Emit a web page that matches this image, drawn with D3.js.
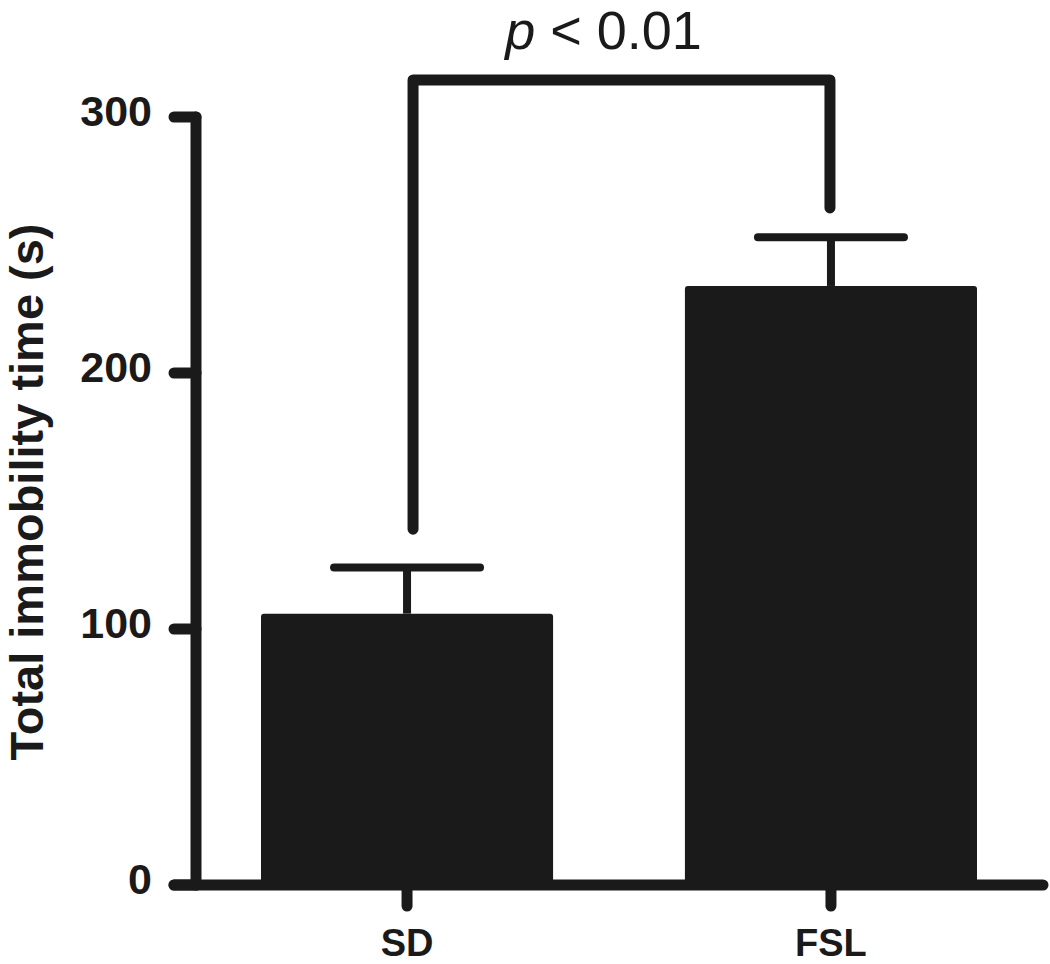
<!DOCTYPE html>
<html>
<head>
<meta charset="utf-8">
<script src="https://cdn.jsdelivr.net/npm/d3@7"></script>
<style>
  html, body { margin: 0; padding: 0; background: #fff; }
  svg { display: block; }
  text { font-family: "Liberation Sans", Arial, Helvetica, sans-serif; fill: #1a1a1a; }
</style>
</head>
<body>
<script>
// ---- data ----
const categories = ["SD", "FSL"];
const means = [106, 234];
const errors = [18, 19];   // SEM (upper)
const yTicks = [0, 100, 200, 300];
const yLabel = "Total immobility time (s)";
const sigText = "< 0.01";
const sigBracket = { left: 139, top: 314.5, right: 264.5 }; // in data units

const W = 1050, H = 964;
const ink = "#1a1a1a";

const svg = d3.select("body").append("svg").attr("width", W).attr("height", H);

const y = d3.scaleLinear().domain([0, 300]).range([885, 117]);
const x = d3.scaleBand().domain(categories).range([261, 977]).paddingInner(0.311).paddingOuter(0);
const cx = c => x(c) + x.bandwidth() / 2;

// bars
svg.selectAll("rect.bar").data(categories).join("rect")
  .attr("class", "bar")
  .attr("x", c => x(c))
  .attr("width", x.bandwidth())
  .attr("y", (c, i) => y(means[i]))
  .attr("height", (c, i) => y(0) - y(means[i]))
  .attr("rx", 3)
  .attr("fill", ink);

// error bars
const capHalf = 73;
const eg = svg.append("g").attr("stroke", ink).attr("stroke-width", 8).attr("stroke-linecap", "round").attr("fill", "none");
categories.forEach((c, i) => {
  eg.append("line").attr("x1", cx(c)).attr("x2", cx(c))
    .attr("y1", y(means[i])).attr("y2", y(means[i] + errors[i])).attr("stroke-linecap", "butt");
  eg.append("line").attr("x1", cx(c) - capHalf).attr("x2", cx(c) + capHalf)
    .attr("y1", y(means[i] + errors[i])).attr("y2", y(means[i] + errors[i]));
});

// axes
const ag = svg.append("g").attr("stroke", ink).attr("stroke-width", 11).attr("stroke-linecap", "round").attr("fill", "none");
const axisX = 196;
ag.append("line").attr("x1", axisX).attr("x2", axisX).attr("y1", y(0)).attr("y2", y(300));
ag.append("line").attr("x1", 174).attr("x2", 1043).attr("y1", y(0)).attr("y2", y(0));
yTicks.forEach(t => {
  ag.append("line").attr("x1", 174).attr("x2", axisX).attr("y1", y(t)).attr("y2", y(t));
});
categories.forEach(c => {
  ag.append("line").attr("x1", cx(c)).attr("x2", cx(c)).attr("y1", y(0)).attr("y2", 906);
});

// y tick labels
svg.selectAll("text.ytick").data(yTicks).join("text")
  .attr("class", "ytick")
  .attr("x", 152)
  .attr("y", t => y(t) - 6)
  .attr("text-anchor", "end")
  .attr("dominant-baseline", "central")
  .attr("font-size", 43)
  .attr("font-weight", "bold")
  .text(t => t);

// x labels
svg.selectAll("text.xlab").data(categories).join("text")
  .attr("class", "xlab")
  .attr("x", c => cx(c))
  .attr("y", 956)
  .attr("text-anchor", "middle")
  .attr("font-size", 38)
  .attr("font-weight", "bold")
  .text(c => c);

// y label
svg.append("text")
  .attr("transform", "translate(43,492) rotate(-90)")
  .attr("text-anchor", "middle")
  .attr("font-size", 47)
  .attr("font-weight", "bold")
  .text(yLabel);

// significance bracket
const bx1 = cx(categories[0]) + 6, bx2 = cx(categories[1]) - 1;
svg.append("path")
  .attr("d", `M${bx1},${y(sigBracket.left)} L${bx1},${y(sigBracket.top)} L${bx2},${y(sigBracket.top)} L${bx2},${y(sigBracket.right)}`)
  .attr("fill", "none").attr("stroke", ink).attr("stroke-width", 11)
  .attr("stroke-linecap", "round").attr("stroke-linejoin", "round");

const st = svg.append("text")
  .attr("x", (bx1 + bx2) / 2 - 18)
  .attr("y", 49)
  .attr("text-anchor", "middle")
  .attr("font-size", 54);
st.append("tspan").attr("font-style", "italic").text("p");
st.append("tspan").text(" " + sigText);
</script>
</body>
</html>
